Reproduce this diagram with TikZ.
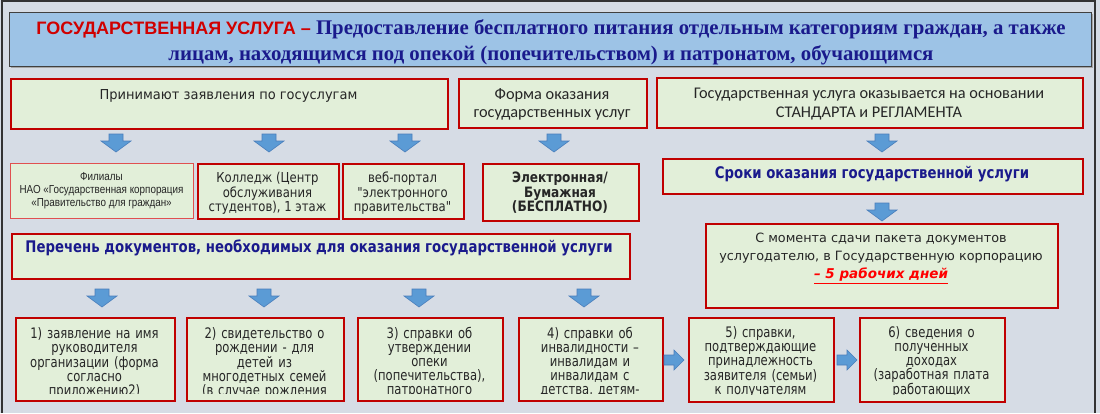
\documentclass[tikz,border=0pt]{standalone}
\usepackage{fontspec}
\setmainfont{DejaVu Sans}
\newfontfamily\fA[FakeStretch=0.95]{DejaVu Sans}
\newfontfamily\fK[FakeStretch=0.85]{DejaVu Sans}
\newfontfamily\fS[FakeStretch=0.83]{DejaVu Sans}
\newfontfamily\fD[FakeStretch=0.8]{DejaVu Sans}
\newfontfamily\calib{Carlito}
\newfontfamily\tser{Liberation Serif}
\newfontfamily\tsans{Liberation Sans}
\newfontfamily\nsans[FakeStretch=0.85]{Liberation Sans}
\newcommand\fstrut[1]{\rule{0pt}{#1}}
\definecolor{bg}{HTML}{D6DCE5}
\definecolor{boxfill}{HTML}{E2EFD9}
\definecolor{boxred}{HTML}{C00000}
\definecolor{lightred}{HTML}{E05050}
\definecolor{titlefill}{HTML}{9DC3E6}
\definecolor{navy}{HTML}{1A1A8C}
\definecolor{titlered}{HTML}{D00000}
\definecolor{arrfill}{HTML}{5B9BD5}
\definecolor{arredge}{HTML}{4A7EBB}
\definecolor{textgray}{HTML}{262626}
\tikzset{
  pics/darr/.style={code={\filldraw[fill=arrfill, draw=arredge, line width=0.6pt]
    (-7,0) -- (7,0) -- (7,7) -- (15,7) -- (0,18) -- (-15,7) -- (-7,7) -- cycle;}},
  pics/rarr/.style={code={\filldraw[fill=arrfill, draw=arredge, line width=0.6pt]
    (0,-5) -- (10,-5) -- (10,-10) -- (20,0) -- (10,10) -- (10,5) -- (0,5) -- cycle;}},
}
\begin{document}
\begin{tikzpicture}[x=1pt,y=-1pt,
  box/.style={draw=boxred, line width=1.8pt, fill=boxfill, inner sep=0pt, anchor=north west},
  thinbox/.style={box, draw=lightred, line width=1.2pt},
  txt/.style={inner sep=0pt, align=center, text=textgray},
  doc/.style={txt, anchor=north, font=\fD\fontsize{14.5}{14}\selectfont}]
\useasboundingbox (0,0) rectangle (1100,413);
\fill[bg] (0,0) rectangle (1100,413);
\draw[black!80, line width=1.5pt] (2,413) -- (2,1) -- (1095,1) -- (1095,413);

% title
\fill[black!35] (11,14) rectangle (1093,68);
\node[draw=black!75, fill=titlefill, line width=1pt, anchor=north west, minimum width=1082pt, minimum height=54pt, inner sep=0pt] (title) at (9,12) {};
\node[txt, anchor=north, text=navy, font=\tser\bfseries\fontsize{20.8}{26}\selectfont] (titletxt) at (551,18)
  {\fstrut{16pt}{\tsans\fontsize{18}{26}\selectfont\color{titlered}ГОСУДАРСТВЕННАЯ УСЛУГА –} Предоставление бесплатного питания отдельным категориям граждан, а также\\
   лицам, находящимся под опекой (попечительством) и патронатом, обучающимся};

% row 1
\node[box, minimum width=437pt, minimum height=50pt] (A) at (10,78) {};
\node[txt, anchor=base, font=\fA\fontsize{13.7}{16}\selectfont] (At) at (228.5,99) {Принимают заявления по госуслугам};
\node[box, minimum width=188pt, minimum height=49pt] (B) at (458,78) {};
\node[txt, anchor=north, font=\calib\fontsize{16.3}{18.5}\selectfont] (Bt) at (552,85) {\fstrut{14pt}Форма оказания\\государственных услуг};
\node[box, minimum width=426pt, minimum height=50pt] (C) at (656,77) {};
\node[txt, anchor=north, font=\calib\fontsize{16.3}{18.5}\selectfont] (Ct) at (869,84.5) {\fstrut{14pt}Государственная услуга оказывается на основании\\СТАНДАРТА и РЕГЛАМЕНТА};

\pic at (116,134) {darr};
\pic at (269,134) {darr};
\pic at (405,134) {darr};
\pic at (554,134) {darr};
\pic at (882,134) {darr};

% row 2
\node[thinbox, minimum width=183pt, minimum height=55pt] (F) at (10,163) {};
\node[txt, anchor=north, font=\nsans\fontsize{11.6}{13.3}\selectfont] (Ft) at (101.5,170) {\fstrut{10pt}Филиалы\\НАО «Государственная корпорация\\«Правительство для граждан»};
\node[box, minimum width=141pt, minimum height=55pt] (K) at (197,163) {};
\node[txt, anchor=north, font=\fK\fontsize{13.7}{14.5}\selectfont] (Kt) at (267.5,170.7) {\fstrut{12pt}Колледж (Центр\\обслуживания\\студентов), 1 этаж};
\node[box, minimum width=121pt, minimum height=55pt] (W) at (342,163) {};
\node[txt, anchor=north, font=\fK\fontsize{13.7}{14.5}\selectfont] (Wt) at (402.5,170.7) {\fstrut{12pt}веб-портал\\"электронного\\правительства"};
\node[box, minimum width=156pt, minimum height=57pt] (E) at (482,163) {};
\node[txt, anchor=north, font=\fK\bfseries\fontsize{14.3}{14.3}\selectfont] (Et) at (560,170.7) {\fstrut{12pt}Электронная/\\Бумажная\\(БЕСПЛАТНО)};
\node[box, minimum width=420pt, minimum height=35pt] (S) at (662,158) {};
\node[txt, anchor=base, text=navy, font=\fS\bfseries\fontsize{16}{18}\selectfont] (St) at (872,178.3) {Сроки оказания государственной услуги};

\pic at (882,203) {darr};

\node[box, minimum width=352pt, minimum height=84pt] (M) at (705,223) {};
\node[txt, anchor=north, font=\fontsize{12.8}{18}\selectfont] (Mt) at (881,231.3) {\fstrut{11pt}С момента сдачи пакета документов\\услугодателю, в Государственную корпорацию\\{\fontsize{13.5}{18}\selectfont\color{red}\bfseries\itshape\underline{– 5 рабочих дней}}};

\node[box, minimum width=618pt, minimum height=45pt] (P) at (11,233) {};
\node[txt, anchor=base, text=navy, font=\fS\bfseries\fontsize{16}{18}\selectfont] (Pt) at (319,252.5) {Перечень документов, необходимых для оказания государственной услуги};

\pic at (102,289) {darr};
\pic at (264,289) {darr};
\pic at (419,289) {darr};
\pic at (584,289) {darr};

% bottom row
\node[box, minimum width=159pt, minimum height=83pt] (D1) at (15,317) {};
\node[box, minimum width=157pt, minimum height=83pt] (D2) at (186,317) {};
\node[box, minimum width=145pt, minimum height=83pt] (D3) at (357,317) {};
\node[box, minimum width=144pt, minimum height=83pt] (D4) at (518,317) {};
\node[box, minimum width=145pt, minimum height=84pt] (D5) at (688,317) {};
\node[box, minimum width=145pt, minimum height=84pt] (D6) at (859,317) {};

\begin{scope}
\clip (17,319) rectangle (172,393);
\node[doc, text width=155pt] (D1t) at (94.5,326) {\fstrut{12pt}1) заявление на имя\\руководителя\\организации (форма\\согласно\\приложению2)};
\end{scope}
\begin{scope}
\clip (188,319) rectangle (341,393);
\node[doc, text width=153pt] (D2t) at (264.5,326) {\fstrut{12pt}2) свидетельство о\\рождении - для\\детей из\\многодетных семей\\(в случае рождения};
\end{scope}
\begin{scope}
\clip (359,319) rectangle (500,393);
\node[doc, text width=141pt] (D3t) at (429.5,326) {\fstrut{12pt}3) справки об\\утверждении\\опеки\\(попечительства),\\патронатного};
\end{scope}
\begin{scope}
\clip (520,319) rectangle (660,393);
\node[doc, text width=140pt] (D4t) at (590,326) {\fstrut{12pt}4) справки об\\инвалидности –\\инвалидам и\\инвалидам с\\детства, детям-};
\end{scope}
\begin{scope}
\clip (690,319) rectangle (831,394);
\node[doc, text width=141pt] (D5t) at (760.5,325) {\fstrut{12pt}5) справки,\\подтверждающие\\принадлежность\\заявителя (семьи)\\к получателям};
\end{scope}
\begin{scope}
\clip (861,319) rectangle (1002,394);
\node[doc, text width=141pt] (D6t) at (931.5,325) {\fstrut{12pt}6) сведения о\\полученных\\доходах\\(заработная плата\\работающих};
\end{scope}

\pic at (664,360) {rarr};
\pic at (837,360) {rarr};
\end{tikzpicture}
\end{document}
